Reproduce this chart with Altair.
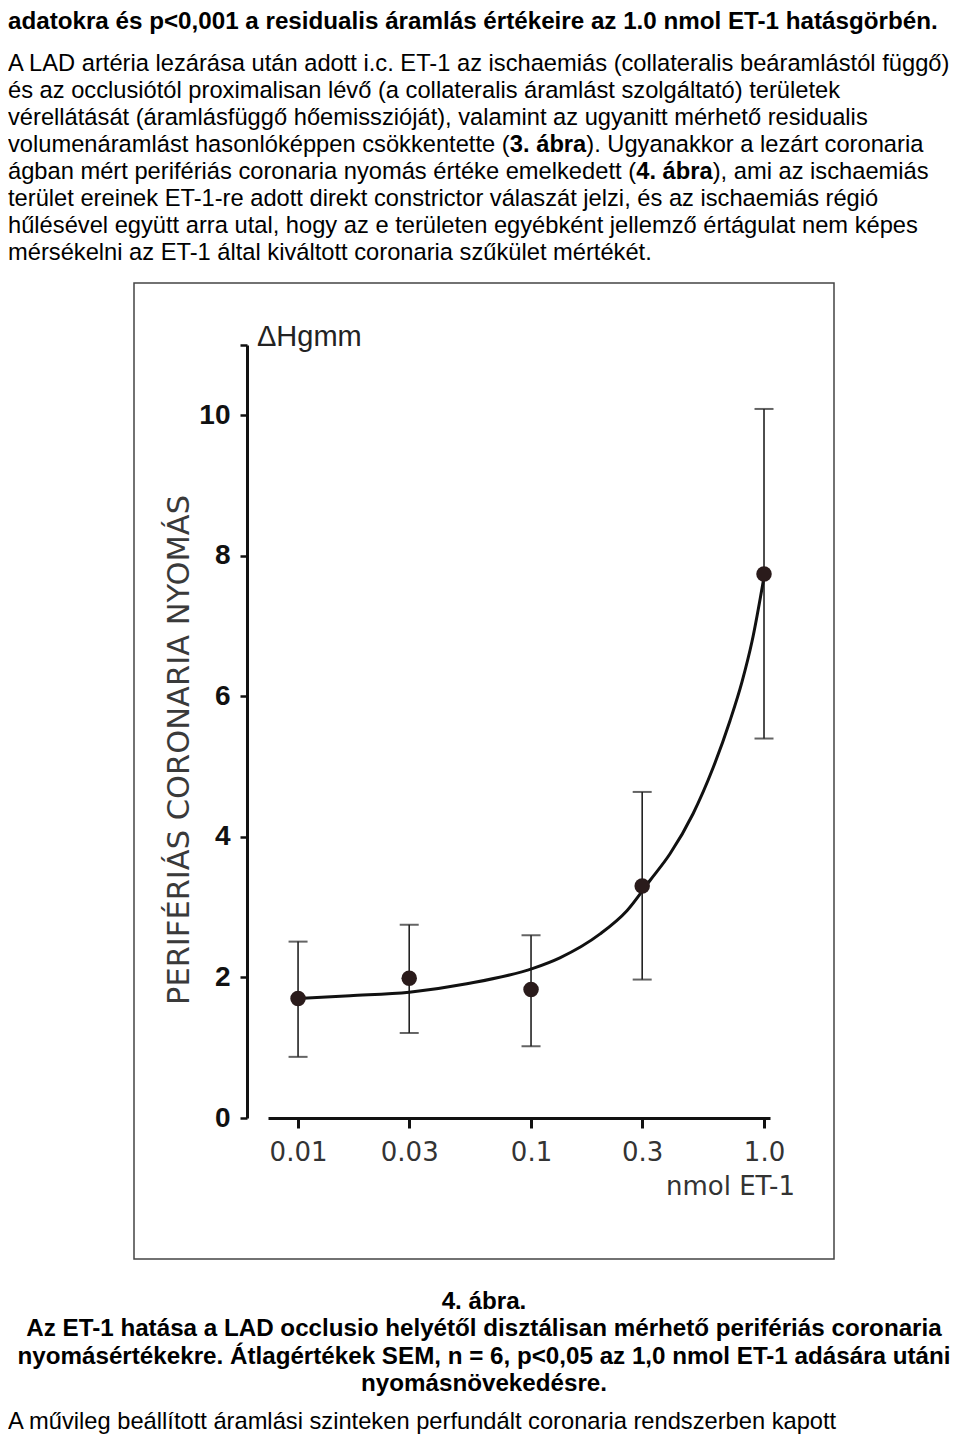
import altair as alt
import pandas as pd

# ---- data ----
dose = [0.01, 0.03, 0.1, 0.3, 1.0]
mean_p = [1.70, 1.99, 1.83, 3.30, 7.74]
upper_p = [2.51, 2.75, 2.60, 4.64, 10.09]
lower_p = [0.87, 1.21, 1.02, 1.97, 5.40]

curve_dose = [0.01, 0.0167, 0.03, 0.053, 0.102, 0.133, 0.198, 0.258, 0.324,
              0.395, 0.496, 0.604, 0.714, 0.805, 0.888, 1.0]
curve_val = [1.70, 1.74, 1.79, 1.91, 2.13, 2.28, 2.62, 2.95, 3.38,
             3.76, 4.33, 4.98, 5.65, 6.21, 6.78, 7.70]

x_ticks = [0.01, 0.03, 0.1, 0.3, 1.0]
y_ticks = [0, 2, 4, 6, 8, 10, 11]

top_line = "adatokra és p<0,001 a residualis áramlás értékeire az 1.0 nmol ET-1 hatásgörbén."
para_lines = [
    "A LAD artéria lezárása után adott i.c. ET-1 az ischaemiás (collateralis beáramlástól függő)",
    "és az occlusiótól proximalisan lévő (a collateralis áramlást szolgáltató) területek",
    "vérellátását (áramlásfüggő hőemisszióját), valamint az ugyanitt mérhető residualis",
    None,
    None,
    "terület ereinek ET-1-re adott direkt constrictor válaszát jelzi, és az ischaemiás régió",
    "hűlésével együtt arra utal, hogy az e területen egyébként jellemző értágulat nem képes",
    "mérsékelni az ET-1 által kiváltott coronaria szűkület mértékét.",
]
line4 = ["volumenáramlást hasonlóképpen csökkentette (", "3. ábra", "). Ugyanakkor a lezárt coronaria"]
line5 = ["ágban mért perifériás coronaria nyomás értéke emelkedett (", "4. ábra", "), ami az ischaemiás"]
caption = [
    "4. ábra.",
    "Az ET-1 hatása a LAD occlusio helyétől disztálisan mérhető perifériás coronaria",
    "nyomásértékekre. Átlagértékek SEM, n = 6, p<0,05 az 1,0 nmol ET-1 adására utáni",
    "nyomásnövekedésre.",
]
last_line = "A művileg beállított áramlási szinteken perfundált coronaria rendszerben kapott"
y_title = "PERIFÉRIÁS CORONARIA NYOMÁS"

pts = pd.DataFrame({"dose": dose, "mean": mean_p, "hi": upper_p, "lo": lower_p})
crv = pd.DataFrame({"dose": curve_dose, "val": curve_val})
anchor = pd.DataFrame({"a": [0]})

# Arial-compatible advance widths (1/1000 em) to chain mixed-weight text runs
_REG = {" ": 278, "(": 333, ")": 333, ".": 278, ",": 278, "-": 333,
        "a": 556, "b": 556, "c": 500, "d": 556, "e": 556, "f": 278, "g": 556, "h": 556,
        "i": 222, "j": 222, "k": 500, "l": 222, "m": 833, "n": 556, "o": 556, "p": 556,
        "q": 556, "r": 333, "s": 500, "t": 278, "u": 556, "v": 500, "w": 722, "x": 500,
        "y": 500, "z": 500, "U": 722, "E": 667, "T": 611}
_BOLD = {" ": 278, ".": 278, "a": 556, "b": 611, "r": 389}
_BASE = str.maketrans("áéíóöőúüű", "aeiooouuu")


def run_width(s, size, bold=False):
    tab = _BOLD if bold else _REG
    total = 0
    for ch in s.translate(_BASE):
        total += tab.get(ch, 556)
    return total * size / 1000.0


# page -> plot coordinates
OX, OY = 268, 345
W, H = 502, 773

xscale = alt.Scale(type="log", domain=[0.00743, 1.061], nice=False)
yscale = alt.Scale(domain=[0, 11], nice=False, zero=True)

xaxis = alt.Axis(values=x_ticks, labelExpr="datum.value >= 1 ? '1.0' : '' + datum.value",
                 title=None, grid=False, domainWidth=3, domainColor="#111",
                 tickWidth=3, tickSize=10, tickColor="#111",
                 labelFont="DejaVu Sans", labelFontSize=26, labelColor="#333",
                 labelPadding=11, labelFlush=False)
yaxis = alt.Axis(values=y_ticks, labelExpr="datum.value == 11 ? '' : datum.value",
                 title=None, grid=False, offset=21,
                 domainWidth=3, domainColor="#111", tickWidth=2.5, tickSize=7,
                 tickColor="#111", labelFont="Liberation Sans", labelFontWeight="bold",
                 labelFontSize=28, labelColor="#111", labelPadding=10)

curve = alt.Chart(crv).mark_line(interpolate="monotone", strokeWidth=3, color="#111").encode(
    x=alt.X("dose:Q", scale=xscale, axis=xaxis, title=None),
    y=alt.Y("val:Q", scale=yscale, axis=yaxis, title=None),
)
err = alt.Chart(pts).mark_errorbar(
    ticks={"size": 19, "thickness": 2, "color": "#222"},
    rule={"strokeWidth": 1.6, "color": "#222"},
).encode(
    x=alt.X("dose:Q", scale=xscale, title=None),
    y=alt.Y("lo:Q", scale=yscale, title=None),
    y2="hi:Q",
)
dots = alt.Chart(pts).mark_circle(size=240, color="#2a1b1b", opacity=1).encode(
    x=alt.X("dose:Q", scale=xscale, title=None),
    y=alt.Y("mean:Q", scale=yscale, title=None),
)


def txt(s, X, Y, size=23.7, bold=False, align="left", font="Liberation Sans",
        color="#000", angle=0):
    kw = dict(text=s, align=align, baseline="middle", font=font, fontSize=size,
              fontWeight="bold" if bold else "normal", color=color)
    if angle:
        kw["angle"] = angle
    return alt.Chart(anchor).mark_text(**kw).encode(x=alt.value(X - OX), y=alt.value(Y - OY))


box = alt.Chart(anchor).mark_rect(fillOpacity=0, stroke="#444", strokeWidth=1.5).encode(
    x=alt.value(134 - OX), x2=alt.value(834 - OX), y=alt.value(283 - OY), y2=alt.value(1259 - OY)
)

layers = [box, err, curve, dots]
layers.append(txt("ΔHgmm", 257, 337, size=29, color="#222"))
layers.append(txt("nmol ET-1", 795, 1187, size=26, align="right", font="DejaVu Sans", color="#333"))
layers.append(txt(y_title, 180, 750, size=30.5, font="DejaVu Sans", color="#3a3a3a",
                  angle=270, align="center"))

PS = 23.7   # paragraph font size
BS = 24.2   # bold line font size
LX = 8
layers.append(txt(top_line, LX, 22, size=BS, bold=True))
para_y = [64, 91, 118, 145, 172, 199, 226, 253]
for s, yy in zip(para_lines, para_y):
    if s is not None:
        layers.append(txt(s, LX, yy, size=PS))

for parts, yy in ((line4, para_y[3]), (line5, para_y[4])):
    x0 = LX
    layers.append(txt(parts[0], x0, yy, size=PS))
    x1 = x0 + run_width(parts[0], PS)
    layers.append(txt(parts[1], x1, yy, size=PS, bold=True))
    x2 = x1 + run_width(parts[1], PS, bold=True)
    layers.append(txt(parts[2], x2, yy, size=PS))

for s, yy in zip(caption, [1302, 1329, 1357, 1384]):
    layers.append(txt(s, 484, yy, size=BS, bold=True, align="center"))
layers.append(txt(last_line, LX, 1422, size=PS))

chart = alt.layer(*layers).properties(
    width=W, height=H,
    padding={"left": OX - 8, "top": OY - 8, "right": 944 - (OX - 8) - W, "bottom": 1428 - (OY - 8) - H},
    autosize=alt.AutoSizeParams(type="none"),
).configure_view(stroke=None)

chart.save("out.html", embed_options={"renderer": "svg", "actions": False})
